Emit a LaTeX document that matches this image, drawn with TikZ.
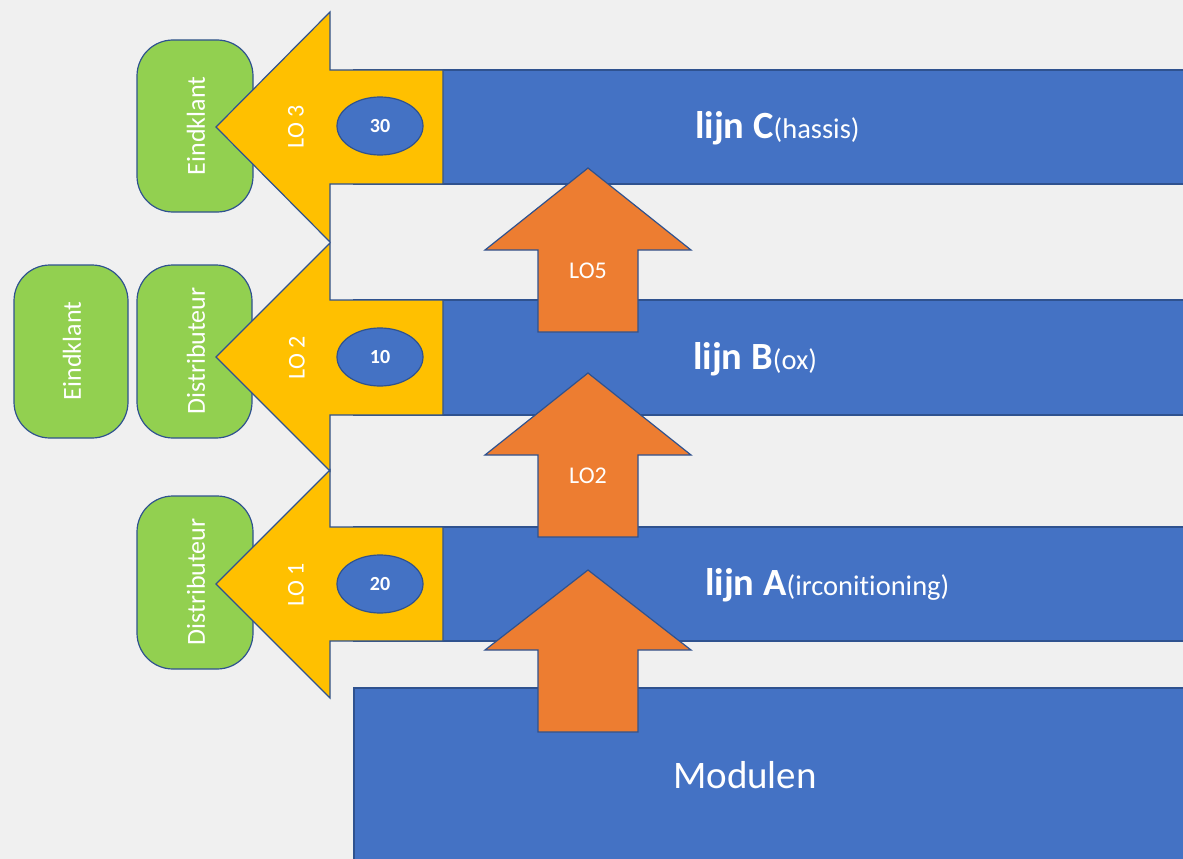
\documentclass[tikz,border=0pt]{standalone}
\usepackage{fontspec}
\setmainfont{Carlito}[Ligatures=NoCommon]
\usetikzlibrary{shapes.geometric}
\definecolor{bg}{RGB}{240,240,240}
\definecolor{oblue}{HTML}{4472C4}
\definecolor{oline}{HTML}{2F528F}
\definecolor{oorange}{HTML}{ED7D31}
\definecolor{oyellow}{HTML}{FFC000}
\definecolor{ogreen}{HTML}{92D050}
\tikzset{
  bar/.style={fill=oblue, draw=oline, line width=1.2pt},
  yarrow/.style={fill=oyellow, draw=oline, line width=1.2pt, line join=miter},
  uarrow/.style={fill=oorange, draw=oline, line width=1.2pt, line join=miter},
  gbox/.style={fill=ogreen, draw=oline, line width=1.2pt, rounded corners=36pt},
  oval/.style={ellipse, fill=oblue, draw=oline, line width=1.2pt, minimum width=86pt, minimum height=58pt, inner sep=0pt, text=white, font=\fontsize{20}{24}\selectfont\bfseries},
  vlabel/.style={rotate=90, text=white, inner sep=0pt, font=\fontsize{26}{30}\selectfont},
  lolabel/.style={rotate=90, text=white, inner sep=0pt, font=\fontsize{24}{28}\selectfont},
  ulabel/.style={text=white, inner sep=0pt, font=\fontsize{24}{28}\selectfont},
  barlabel/.style={text=white, inner sep=0pt, anchor=base west, font=\fontsize{38.5}{44}\selectfont\bfseries}
}
\newcommand{\paren}[1]{{\fontsize{28.5}{32}\selectfont\mdseries #1}}
\begin{document}
\begin{tikzpicture}[x=1pt,y=-1pt]
\useasboundingbox (0,0) rectangle (1183,859);
\fill[bg] (0,0) rectangle (1183,859);
% blue bars
\fill[oblue] (354,70) rectangle (1190,184);
\draw[oline, line width=1.2pt] (1190,70) -- (354,70) -- (354,184) -- (1190,184);
\fill[oblue] (354,300) rectangle (1190,415);
\draw[oline, line width=1.2pt] (1190,300) -- (354,300) -- (354,415) -- (1190,415);
\fill[oblue] (354,527) rectangle (1190,641);
\draw[oline, line width=1.2pt] (1190,527) -- (354,527) -- (354,641) -- (1190,641);
\fill[oblue] (354,688) rectangle (1190,866);
\draw[oline, line width=1.2pt] (1190,688) -- (354,688) -- (354,866);
% orange up arrows
\draw[uarrow] (588,570) -- (691,650) -- (638,650) -- (638,732) -- (538,732) -- (538,650) -- (485,650) -- cycle;
\draw[uarrow] (588,373) -- (691,455) -- (638,455) -- (638,537) -- (538,537) -- (538,455) -- (485,455) -- cycle;
\draw[uarrow] (588,168) -- (691,250) -- (638,250) -- (638,332) -- (538,332) -- (538,250) -- (485,250) -- cycle;
% green boxes
\draw[gbox] (137,40) rectangle (253,212);
\draw[gbox] (137,265) rectangle (252,438);
\draw[gbox] (14,265) rectangle (128,438);
\draw[gbox] (137,496) rectangle (253,669);
% yellow left arrows
\draw[yarrow] (443,70) -- (330,70) -- (330,12) -- (216,127) -- (330,242) -- (330,184) -- (443,184) -- cycle;
\draw[yarrow] (443,300) -- (330,300) -- (330,243) -- (216,357) -- (330,471) -- (330,415) -- (443,415) -- cycle;
\draw[yarrow] (443,527) -- (330,527) -- (330,470) -- (216,584) -- (330,698) -- (330,641) -- (443,641) -- cycle;
% labels in green boxes
\node[vlabel] (eind1) at (196,126) {Eindklant};
\node[vlabel] (dist2) at (196,351) {Distributeur};
\node[vlabel] (eind2) at (72,351) {Eindklant};
\node[vlabel] (dist1) at (196,582) {Distributeur};
% LO labels
\node[lolabel] (lo3) at (296,127) {LO 3};
\node[lolabel] (lo2) at (297,358) {LO 2};
\node[lolabel] (lo1) at (296,585) {LO 1};
% ellipses
\node[oval] (n30) at (380,126) {30};
\node[oval] (n10) at (380,357) {10};
\node[oval] (n20) at (380,584) {20};
% orange labels
\node[ulabel] (lo5u) at (588,271) {LO5};
\node[ulabel] (lo2u) at (588,476) {LO2};
% bar labels
\node[barlabel] (lijnC) at (695,138) {lijn C\paren{(hassis)}};
\node[barlabel] (lijnB) at (693,369) {lijn B\paren{(ox)}};
\node[barlabel] (lijnA) at (705,595) {lijn A\paren{(irconitioning)}};
\node[text=white, inner sep=0pt, anchor=base, font=\fontsize{39}{46}\selectfont] (mod) at (745,788) {Modulen};
\end{tikzpicture}
\end{document}
